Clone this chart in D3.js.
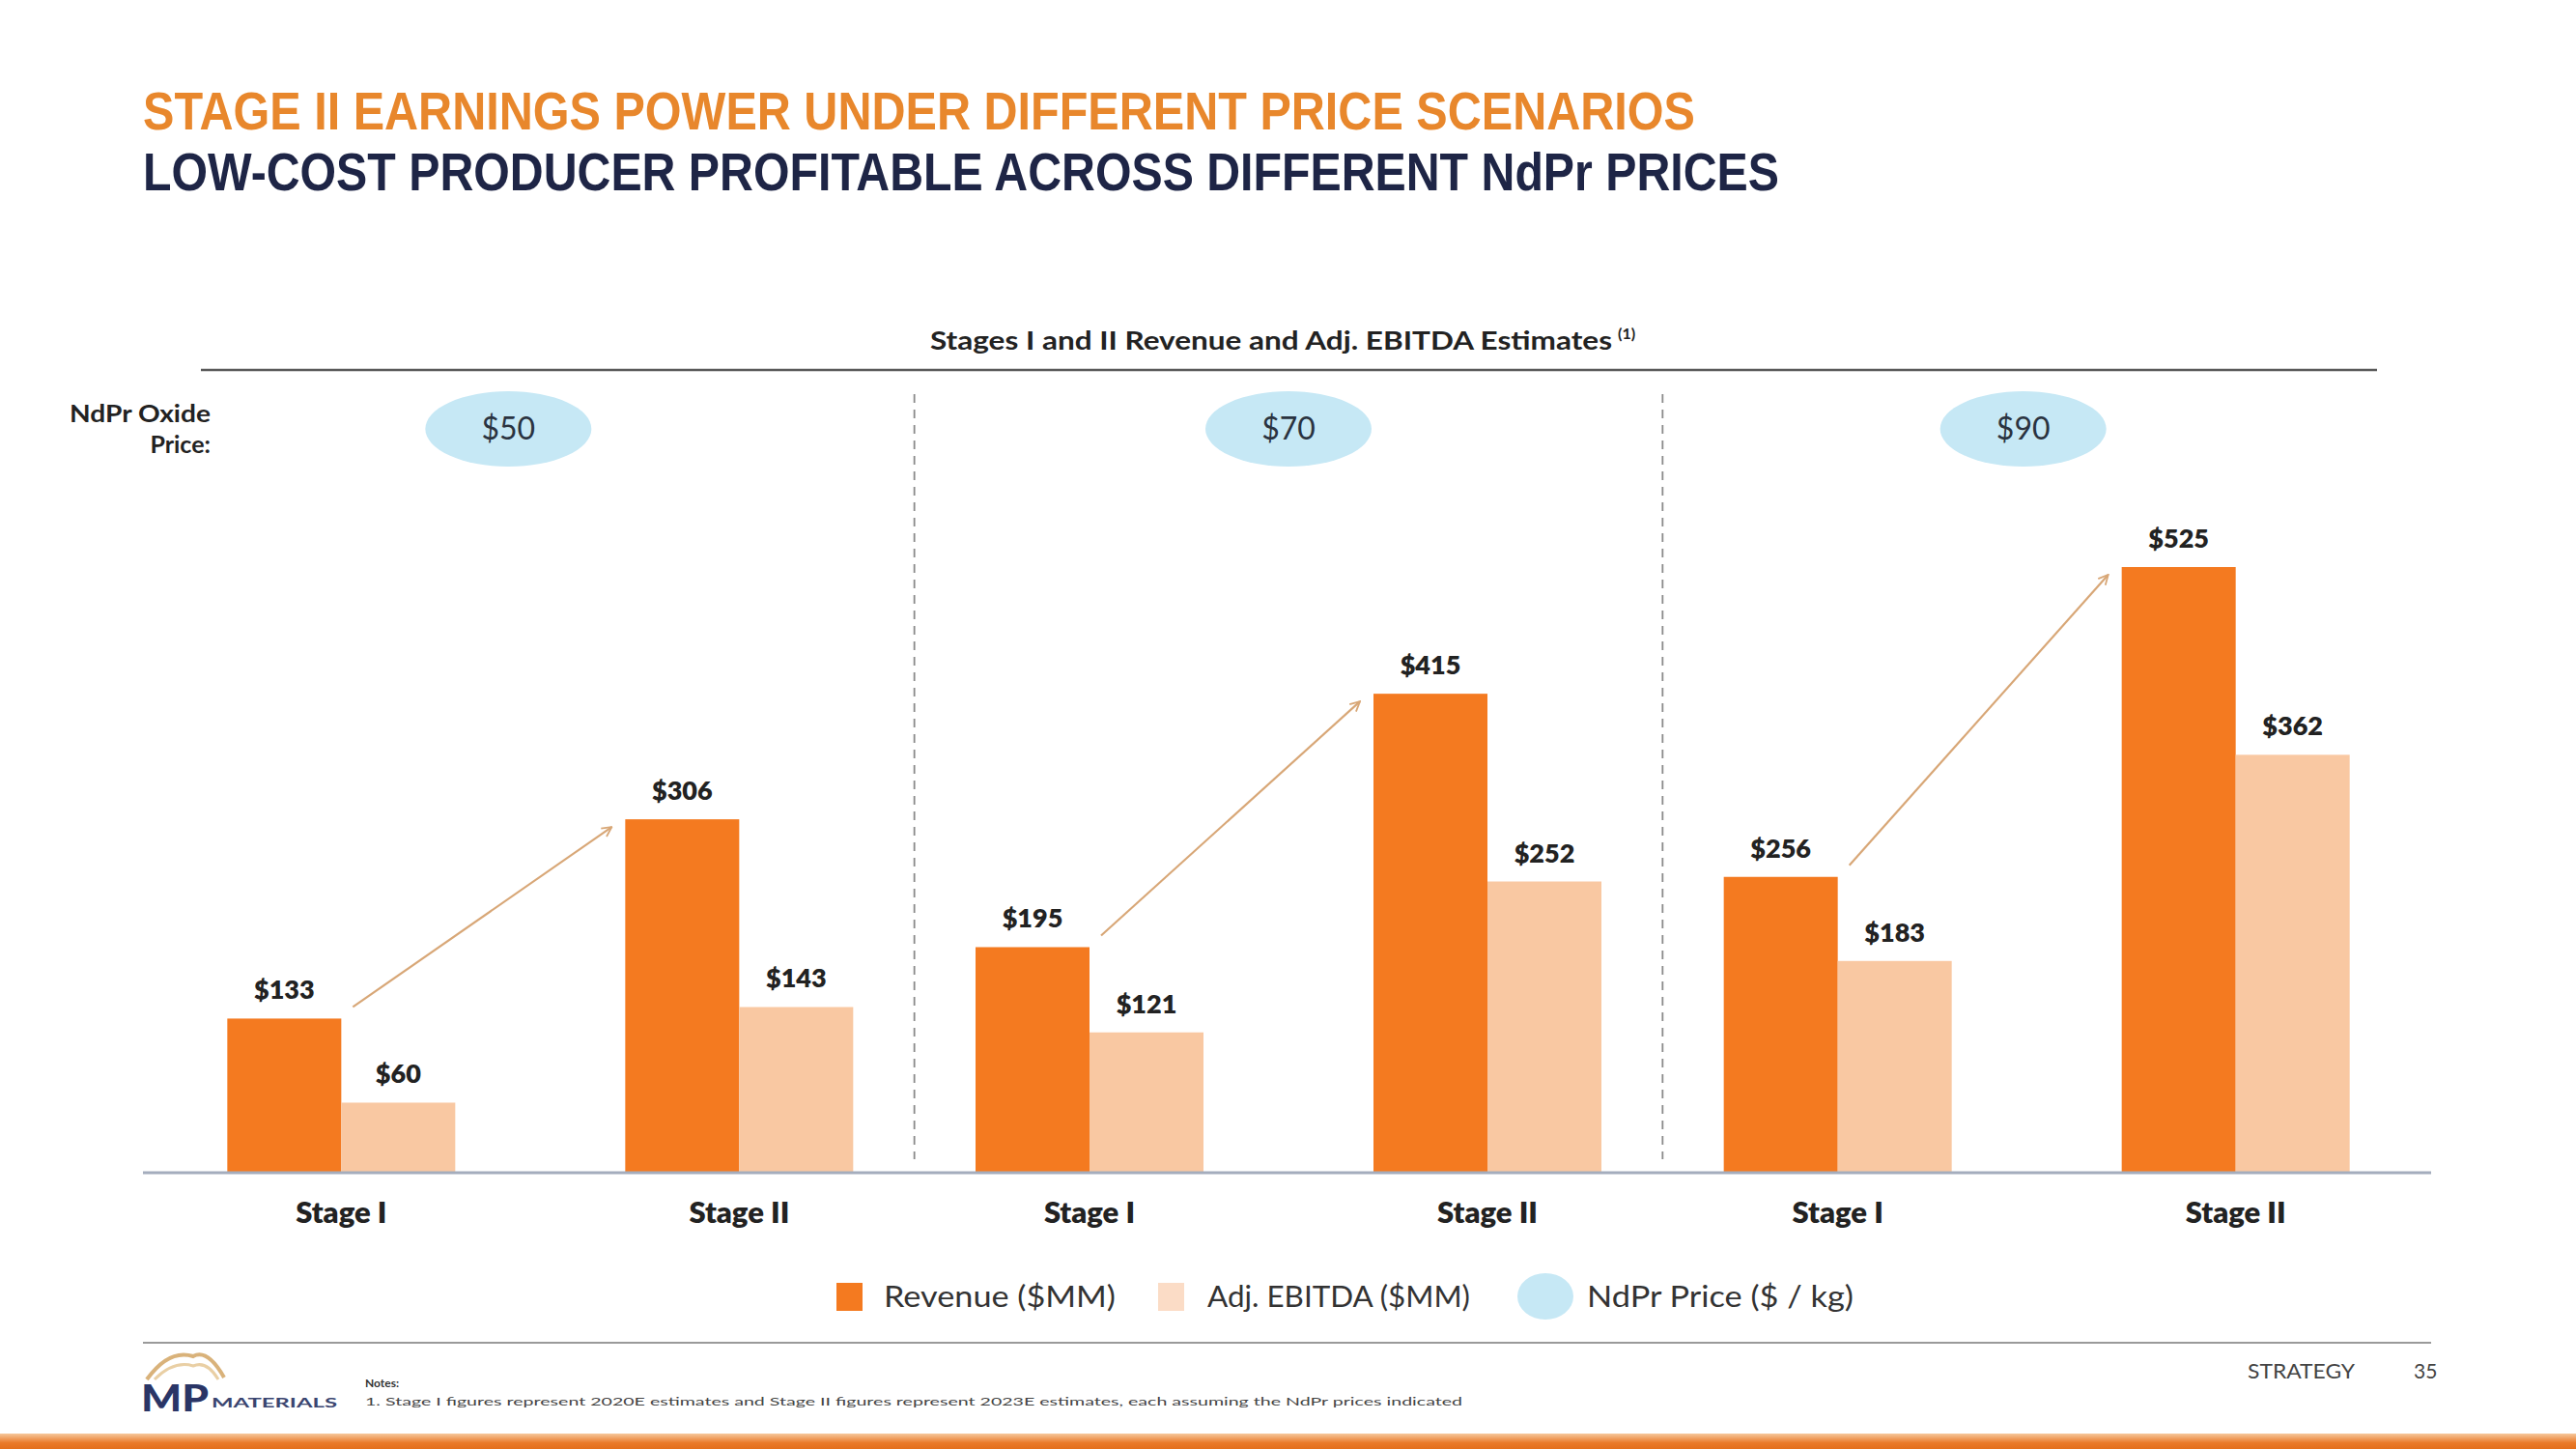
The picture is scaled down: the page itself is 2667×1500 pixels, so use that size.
<!DOCTYPE html>
<html>
<head>
<meta charset="utf-8">
<script src="https://cdn.jsdelivr.net/npm/d3@7"></script>
<style>
  html, body { margin: 0; padding: 0; background: #ffffff; }
  svg { display: block; }
</style>
</head>
<body>
<svg id="chart" width="2667" height="1500"></svg>
<script>
// ---------------- DATA ----------------
const priceScenarios = ["$50", "$70", "$90"];
const stages = ["Stage I", "Stage II"];
const seriesNames = ["Revenue ($MM)", "Adj. EBITDA ($MM)"];
// values in order: [$50 Stage I, $50 Stage II, $70 Stage I, $70 Stage II, $90 Stage I, $90 Stage II]
const revenue = [133, 306, 195, 415, 256, 525];
const ebitda  = [60, 143, 121, 252, 183, 362];
const legendLabels = ["Revenue ($MM)", "Adj. EBITDA ($MM)", "NdPr Price ($ / kg)"];

const titleTop = "STAGE II EARNINGS POWER UNDER DIFFERENT PRICE SCENARIOS";
const titleBottom = "LOW-COST PRODUCER PROFITABLE ACROSS DIFFERENT NdPr PRICES";
const chartSubtitle = "Stages I and II Revenue and Adj. EBITDA Estimates";
const noteText = "1. Stage I figures represent 2020E estimates and Stage II figures represent 2023E estimates, each assuming the NdPr prices indicated";

// ---------------- STYLE ----------------
const C = {
  revenue: "#f47a20",
  ebitda: "#f9c8a2",
  ebitdaLegend: "#fbdcc6",
  bubble: "#c6e8f5",
  orangeTitle: "#e8872c",
  navy: "#1e2546",
  text: "#222222",
  arrow: "#d8a777"
};
const FONT = "Lato, 'Noto Sans', sans-serif";
const TITLE_FONT = "'Liberation Sans Narrow', 'Liberation Sans', Arial, sans-serif";

const svg = d3.select("#chart");

const rows = [];
priceScenarios.forEach((p, gi) => {
  stages.forEach((s, si) => {
    const i = gi * 2 + si;
    rows.push({price: p, stage: s, values: [revenue[i], ebitda[i]]});
  });
});

// ---------------- SCALES ----------------
const xGroup = d3.scaleBand().domain(priceScenarios).range([172, 2496]).padding(0);
const xStage = d3.scaleBand().domain(stages).range([-412, 412]).padding(0);
const xSeries = d3.scaleBand().domain(seriesNames).range([-118, 118]).padding(0);
const y = d3.scaleLinear().domain([0, 525]).range([1213, 587]);
const color = d3.scaleOrdinal().domain(seriesNames).range([C.revenue, C.ebitda]);

const gc = p => xGroup(p) + xGroup.bandwidth() / 2;
const sc = (p, s) => gc(p) + xStage(s) + xStage.bandwidth() / 2;

// ---------------- TITLES ----------------
svg.append("text").attr("x", 148).attr("y", 134)
  .attr("font-family", TITLE_FONT).attr("font-weight", 700).attr("font-size", 55)
  .attr("fill", C.orangeTitle)
  .attr("textLength", 1607).attr("lengthAdjust", "spacingAndGlyphs")
  .text(titleTop);
svg.append("text").attr("x", 148).attr("y", 197)
  .attr("font-family", TITLE_FONT).attr("font-weight", 700).attr("font-size", 55)
  .attr("fill", C.navy)
  .attr("textLength", 1694).attr("lengthAdjust", "spacingAndGlyphs")
  .text(titleBottom);

// subtitle
const sub = svg.append("text").attr("x", 963).attr("y", 362)
  .attr("font-family", FONT).attr("font-weight", 700).attr("font-size", 27)
  .attr("fill", C.text);
sub.append("tspan").attr("textLength", 706).attr("lengthAdjust", "spacingAndGlyphs").text(chartSubtitle);
sub.append("tspan").attr("font-size", 16).attr("dy", -11).attr("dx", 6).text("(1)");

svg.append("line").attr("x1", 208).attr("x2", 2461).attr("y1", 383).attr("y2", 383)
  .attr("stroke", "#5a5a5a").attr("stroke-width", 2.5);

// NdPr Oxide Price label
svg.append("text").attr("x", 218).attr("y", 437).attr("text-anchor", "end")
  .attr("font-family", FONT).attr("font-weight", 700).attr("font-size", 25).attr("fill", C.text)
  .attr("textLength", 146).attr("lengthAdjust", "spacingAndGlyphs")
  .text("NdPr Oxide");
svg.append("text").attr("x", 218).attr("y", 469).attr("text-anchor", "end")
  .attr("font-family", FONT).attr("font-weight", 700).attr("font-size", 25).attr("fill", C.text)
  .text("Price:");

// price bubbles
const bubbles = svg.append("g").selectAll("g").data(priceScenarios).join("g")
  .attr("transform", p => `translate(${gc(p) - (p === "$50" ? 33 : p === "$90" ? 14 : 0)},444)`);
bubbles.append("ellipse").attr("rx", 86).attr("ry", 39).attr("fill", C.bubble);
bubbles.append("text").attr("text-anchor", "middle").attr("dy", 11)
  .attr("font-family", FONT).attr("font-size", 32).attr("fill", "#2a3340")
  .text(d => d);

// dashed separators between price groups
const seps = priceScenarios.slice(1).map(p => xGroup(p));
svg.append("g").selectAll("line").data(seps).join("line")
  .attr("x1", d => d).attr("x2", d => d).attr("y1", 408).attr("y2", 1200)
  .attr("stroke", "#8a8a8a").attr("stroke-width", 1.8).attr("stroke-dasharray", "9,7");

// ---------------- BARS ----------------
const barG = svg.append("g");
rows.forEach(r => {
  const cx = sc(r.price, r.stage);
  r.values.forEach((v, k) => {
    const name = seriesNames[k];
    const x0 = cx + xSeries(name);
    barG.append("rect")
      .attr("x", x0).attr("y", y(v))
      .attr("width", xSeries.bandwidth()).attr("height", y(0) - y(v))
      .attr("fill", color(name));
    barG.append("text")
      .attr("x", x0 + xSeries.bandwidth() / 2).attr("y", y(v) - 20)
      .attr("text-anchor", "middle")
      .attr("font-family", FONT).attr("font-weight", 800).attr("font-size", 27)
      .attr("fill", C.text)
      .text("$" + v);
  });
});

// baseline
svg.append("line").attr("x1", 148).attr("x2", 2517).attr("y1", y(0) + 1).attr("y2", y(0) + 1)
  .attr("stroke", "#a4adbd").attr("stroke-width", 3);

// stage axis labels (per group)
priceScenarios.forEach(p => {
  const ax = d3.axisBottom(xStage).tickSize(0).tickPadding(0);
  const g = svg.append("g").attr("transform", `translate(${gc(p)},${y(0) + 25})`).call(ax);
  g.select(".domain").remove();
  g.selectAll("text").attr("font-family", FONT).attr("font-weight", 800)
    .attr("font-size", 31).attr("fill", C.text).attr("dy", "0.9em");
});

// arrows
const defs = svg.append("defs");
defs.append("marker").attr("id", "arr").attr("viewBox", "0 0 12 12")
  .attr("refX", 11).attr("refY", 6).attr("markerWidth", 12).attr("markerHeight", 12)
  .attr("markerUnits", "userSpaceOnUse").attr("orient", "auto")
  .append("path").attr("d", "M1,1 L11,6 L1,11").attr("fill", "none")
  .attr("stroke", C.arrow).attr("stroke-width", 1.8);
priceScenarios.forEach((p, gi) => {
  const s1 = revenue[gi * 2], s2 = revenue[gi * 2 + 1];
  const x1 = sc(p, "Stage I") + xSeries(seriesNames[0]) + xSeries.bandwidth() + 12;
  const x2 = sc(p, "Stage II") + xSeries(seriesNames[0]) - 14;
  svg.append("line")
    .attr("x1", x1).attr("y1", y(s1) - 12)
    .attr("x2", x2).attr("y2", y(s2) + 8)
    .attr("stroke", C.arrow).attr("stroke-width", 2.2)
    .attr("marker-end", "url(#arr)");
});

// ---------------- LEGEND ----------------
const lg = svg.append("g").attr("font-family", FONT).attr("font-size", 31).attr("fill", "#333");
lg.append("rect").attr("x", 866).attr("y", 1328).attr("width", 27).attr("height", 29).attr("fill", C.revenue);
lg.append("text").attr("x", 915).attr("y", 1353)
  .attr("textLength", 240).attr("lengthAdjust", "spacingAndGlyphs").text(legendLabels[0]);
lg.append("rect").attr("x", 1199).attr("y", 1328).attr("width", 27).attr("height", 29).attr("fill", C.ebitdaLegend);
lg.append("text").attr("x", 1250).attr("y", 1353)
  .attr("textLength", 272).attr("lengthAdjust", "spacingAndGlyphs").text(legendLabels[1]);
lg.append("ellipse").attr("cx", 1600).attr("cy", 1342).attr("rx", 29).attr("ry", 24).attr("fill", C.bubble);
lg.append("text").attr("x", 1643).attr("y", 1353)
  .attr("textLength", 276).attr("lengthAdjust", "spacingAndGlyphs").text(legendLabels[2]);

// ---------------- FOOTER ----------------
svg.append("line").attr("x1", 148).attr("x2", 2517).attr("y1", 1390).attr("y2", 1390)
  .attr("stroke", "#9a9a9a").attr("stroke-width", 2);

// logo
const logo = svg.append("g");
logo.append("path").attr("d", "M152,1428 Q175,1396 200,1404 Q215,1396 232,1426")
  .attr("fill", "none").attr("stroke", "#d9b27a").attr("stroke-width", 4);
logo.append("path").attr("d", "M160,1428 Q180,1408 200,1414 Q214,1408 226,1428")
  .attr("fill", "none").attr("stroke", "#e9cfa4").attr("stroke-width", 3);
logo.append("text").attr("x", 146).attr("y", 1461)
  .attr("font-family", FONT).attr("font-weight", 900).attr("font-size", 38).attr("fill", "#2a3566")
  .attr("textLength", 70).attr("lengthAdjust", "spacingAndGlyphs").text("MP");
logo.append("text").attr("x", 219).attr("y", 1457)
  .attr("font-family", FONT).attr("font-weight", 700).attr("font-size", 14).attr("fill", "#3a4570")
  .attr("textLength", 130).attr("lengthAdjust", "spacingAndGlyphs").text("MATERIALS");

svg.append("text").attr("x", 378).attr("y", 1436)
  .attr("font-family", FONT).attr("font-weight", 700).attr("font-size", 12).attr("fill", "#333")
  .text("Notes:");
svg.append("text").attr("x", 378).attr("y", 1455)
  .attr("font-family", FONT).attr("font-size", 12).attr("fill", "#444")
  .attr("textLength", 1136).attr("lengthAdjust", "spacingAndGlyphs")
  .text(noteText);

svg.append("text").attr("x", 2327).attr("y", 1427)
  .attr("font-family", FONT).attr("font-size", 21).attr("fill", "#444")
  .attr("textLength", 111).attr("lengthAdjust", "spacingAndGlyphs").text("STRATEGY");
svg.append("text").attr("x", 2499).attr("y", 1427)
  .attr("font-family", FONT).attr("font-size", 21).attr("fill", "#444").text("35");

// bottom orange band
const grad = defs.append("linearGradient").attr("id", "band").attr("x1", 0).attr("x2", 0).attr("y1", 0).attr("y2", 1);
grad.append("stop").attr("offset", "0%").attr("stop-color", "#f6c89c");
grad.append("stop").attr("offset", "60%").attr("stop-color", "#ea7a2a");
grad.append("stop").attr("offset", "100%").attr("stop-color", "#e36f1c");
svg.append("rect").attr("x", 0).attr("y", 1484).attr("width", 2667).attr("height", 16).attr("fill", "url(#band)");
</script>
</body>
</html>
